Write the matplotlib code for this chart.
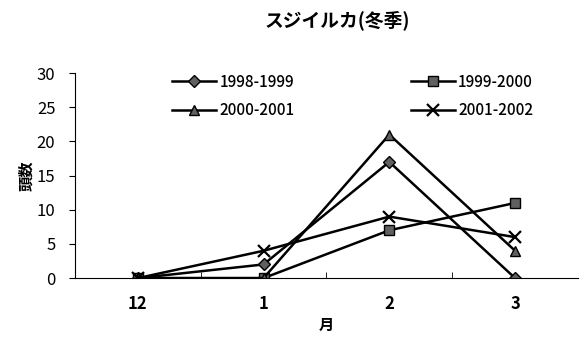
import matplotlib
matplotlib.use("Agg")
import matplotlib.pyplot as plt

plt.rcParams['font.family'] = ['Noto Sans CJK JP', 'DejaVu Sans']

months = ["12", "1", "2", "3"]
s_1998 = [0, 2, 17, 0]
s_1999 = [0, 0, 7, 11]
s_2000 = [0, 0, 21, 4]
s_2001 = [0, 4, 9, 6]
series_labels = ["1998-1999", "1999-2000", "2000-2001", "2001-2002"]

fig = plt.figure(figsize=(5.85, 3.4), dpi=100)
ax = fig.add_axes([0.128, 0.182, 0.860, 0.603])

x = list(range(len(months)))
style = dict(color="black", lw=1.8, markersize=7, markerfacecolor="#606060",
             markeredgecolor="black", markeredgewidth=1.0)
h1, = ax.plot(x, s_1998, marker="D", label=series_labels[0], **{**style, "markersize": 6})
h2, = ax.plot(x, s_1999, marker="s", label=series_labels[1], **style)
h3, = ax.plot(x, s_2000, marker="^", label=series_labels[2], **style)
h4, = ax.plot(x, s_2001, marker="x", label=series_labels[3],
              **{**style, "markersize": 9, "markeredgewidth": 1.6})

ax.set_xlim(-0.5, 3.5)
ax.set_ylim(0, 30)
ax.set_yticks(range(0, 31, 5))
ax.set_xticks(x)
ax.set_xticklabels(months, fontweight="bold")
ax.set_xticks([0.5, 1.5, 2.5], minor=True)
ax.tick_params(axis="x", which="major", length=0, pad=12, labelsize=12)
ax.tick_params(axis="x", which="minor", direction="in", length=4)
ax.tick_params(axis="y", direction="out", length=4, labelsize=12, pad=10)

for side in ("top", "right"):
    ax.spines[side].set_visible(False)
ax.spines["left"].set_linewidth(0.8)
ax.spines["bottom"].set_linewidth(0.8)

ax.set_ylabel("頭数", fontsize=11, fontweight="bold", labelpad=2)
ax.set_xlabel("月", fontsize=11, fontweight="bold", labelpad=3)
fig.text(0.576, 0.94, "スジイルカ(冬季)", ha="center", va="center",
         fontsize=13.5, fontweight="bold")

# column-major ordering so rows read 1998, 1999 / 2000, 2001
leg = ax.legend([h1, h3, h2, h4],
                [series_labels[0], series_labels[2], series_labels[1], series_labels[3]],
                ncol=2, loc="upper left", bbox_to_anchor=(0.166, 1.065), frameon=False,
                fontsize=11, handlelength=2.9, columnspacing=7.6, handletextpad=0.2,
                labelspacing=0.75)
for t in leg.get_texts():
    t.set_fontweight("medium")

fig.savefig("out.png", dpi=100)
